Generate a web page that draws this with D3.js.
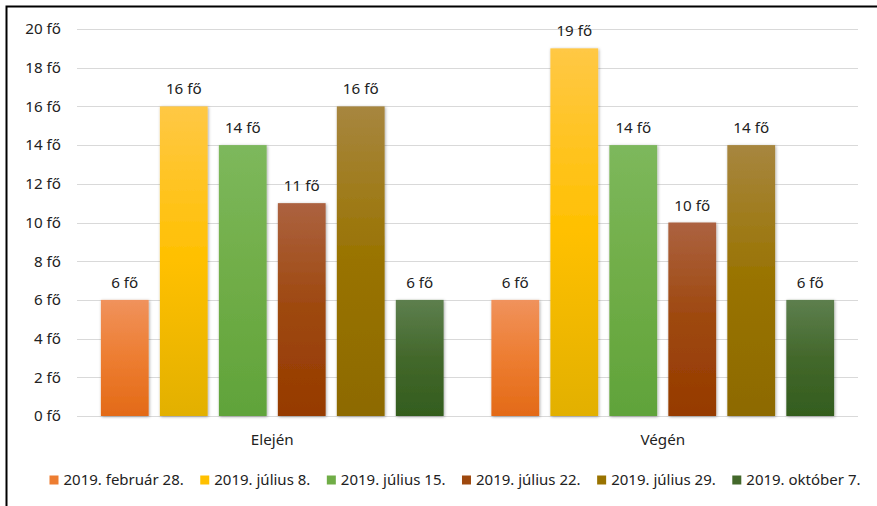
<!DOCTYPE html>
<html>
<head>
<meta charset="utf-8">
<script src="https://cdn.jsdelivr.net/npm/d3@7"></script>
<style>
  html, body { margin: 0; padding: 0; background: #fff; }
  svg { display: block; }
  text { font-family: "Noto Sans", "Open Sans", sans-serif; fill: #222; }
</style>
</head>
<body>
<div id="chart"></div>
<script>
// ---- data ----
const categories = ["Elején", "Végén"];
const seriesNames = ["2019. február 28.", "2019. július 8.", "2019. július 15.", "2019. július 22.", "2019. július 29.", "2019. október 7."];
const feb28 = [6, 6];
const jul08 = [16, 19];
const jul15 = [14, 14];
const jul22 = [11, 10];
const jul29 = [16, 14];
const okt07 = [6, 6];
const yTicks = [0, 2, 4, 6, 8, 10, 12, 14, 16, 18, 20];
const unit = " fő";

// ---- styles ----
const baseColors = ["#ED7D31", "#FFC000", "#70AD47", "#9E480E", "#997300", "#43682B"];
const gradTop = ["#F0925C", "#FFC845", "#7DB85C", "#AC6240", "#A7863F", "#5D7F4E"];
const gradBot = ["#E36A17", "#E2B000", "#60A33A", "#963A00", "#8D6A00", "#335D1E"];

const seriesValues = [feb28, jul08, jul15, jul22, jul29, okt07];

const W = 877, H = 506;
const margin = { left: 77 };
const plotRight = 858, plotTop = 29, plotBottom = 416;
const FS = 15.2;

const svg = d3.select("#chart").append("svg").attr("width", W).attr("height", H);

const defs = svg.append("defs");
seriesNames.forEach((s, i) => {
  const g = defs.append("linearGradient").attr("id", "g" + i)
    .attr("x1", 0).attr("y1", 0).attr("x2", 0).attr("y2", 1);
  g.append("stop").attr("offset", "0%").attr("stop-color", gradTop[i]);
  g.append("stop").attr("offset", "50%").attr("stop-color", baseColors[i]);
  g.append("stop").attr("offset", "100%").attr("stop-color", gradBot[i]);
});
const f = defs.append("filter").attr("id", "shadow").attr("x", "-20%").attr("y", "-10%").attr("width", "140%").attr("height", "120%");
f.append("feDropShadow").attr("dx", 0.8).attr("dy", 0.8).attr("stdDeviation", 1.6)
  .attr("flood-color", "#000").attr("flood-opacity", 0.35);

// outer border
svg.append("rect").attr("x", 6.5).attr("y", 6.5).attr("width", 890).attr("height", 520)
  .attr("fill", "none").attr("stroke", "#000").attr("stroke-width", 2);

const x0 = d3.scaleBand().domain(categories).range([margin.left, plotRight]).paddingInner(0).paddingOuter(0);
const x1 = d3.scaleBand().domain(seriesNames).range([0, x0.bandwidth()]).paddingInner(0.19).paddingOuter(0.405);
const y = d3.scaleLinear().domain([0, 20]).range([plotBottom, plotTop]);

// grid lines
svg.append("g").selectAll("line").data(yTicks).join("line")
  .attr("x1", margin.left).attr("x2", plotRight)
  .attr("y1", d => Math.round(y(d)) + 0.5).attr("y2", d => Math.round(y(d)) + 0.5)
  .attr("stroke", "#d9d9d9").attr("stroke-width", 1);

// y axis labels
const yAxis = d3.axisLeft(y).tickValues(yTicks).tickFormat(d => d + unit).tickSize(0).tickPadding(0);
const ya = svg.append("g").attr("transform", `translate(61,0)`).call(yAxis);
ya.select(".domain").remove();
ya.selectAll("text").attr("font-size", FS).attr("fill", "#222")
  .style("font-family", '"Noto Sans", sans-serif');

// bars
const groups = svg.append("g").selectAll("g").data(categories).join("g")
  .attr("transform", d => `translate(${x0(d)},0)`);

groups.each(function(cat, ci) {
  const g = d3.select(this);
  const data = seriesNames.map((s, si) => ({ s, si, v: seriesValues[si][ci] }));
  g.selectAll("rect").data(data).join("rect")
    .attr("x", d => x1(d.s))
    .attr("y", d => y(d.v))
    .attr("width", x1.bandwidth())
    .attr("height", d => y(0) - y(d.v))
    .attr("fill", d => `url(#g${d.si})`)
    .attr("filter", "url(#shadow)");
  g.selectAll("text.val").data(data).join("text").attr("class", "val")
    .attr("x", d => x1(d.s) + x1.bandwidth() / 2)
    .attr("y", d => y(d.v) - 12)
    .attr("text-anchor", "middle")
    .attr("font-size", FS)
    .text(d => d.v + unit);
});

// x category labels
const xAxis = d3.axisBottom(x0).tickSize(0).tickPadding(0);
const xa = svg.append("g").attr("transform", `translate(0,${plotBottom})`).call(xAxis);
xa.select(".domain").remove();
xa.selectAll("text").attr("dy", 0).attr("y", 29).attr("font-size", FS).attr("fill", "#222")
  .style("font-family", '"Noto Sans", sans-serif');

// legend
const legend = svg.append("g");
const items = legend.selectAll("g").data(seriesNames).join("g");
items.append("rect").attr("width", 9).attr("height", 9).attr("y", -9.5)
  .attr("fill", (d, i) => baseColors[i]);
items.append("text").attr("x", 14).attr("y", 0).attr("font-size", 15).text(d => d);
let xPos = 0;
const gap = 16.5;
items.each(function() {
  const w = 14 + d3.select(this).select("text").node().getComputedTextLength();
  d3.select(this).attr("transform", `translate(${xPos},0)`);
  xPos += w + gap;
});
const total = xPos - gap;
legend.attr("transform", `translate(${455 - total / 2},485)`);
</script>
</body>
</html>
